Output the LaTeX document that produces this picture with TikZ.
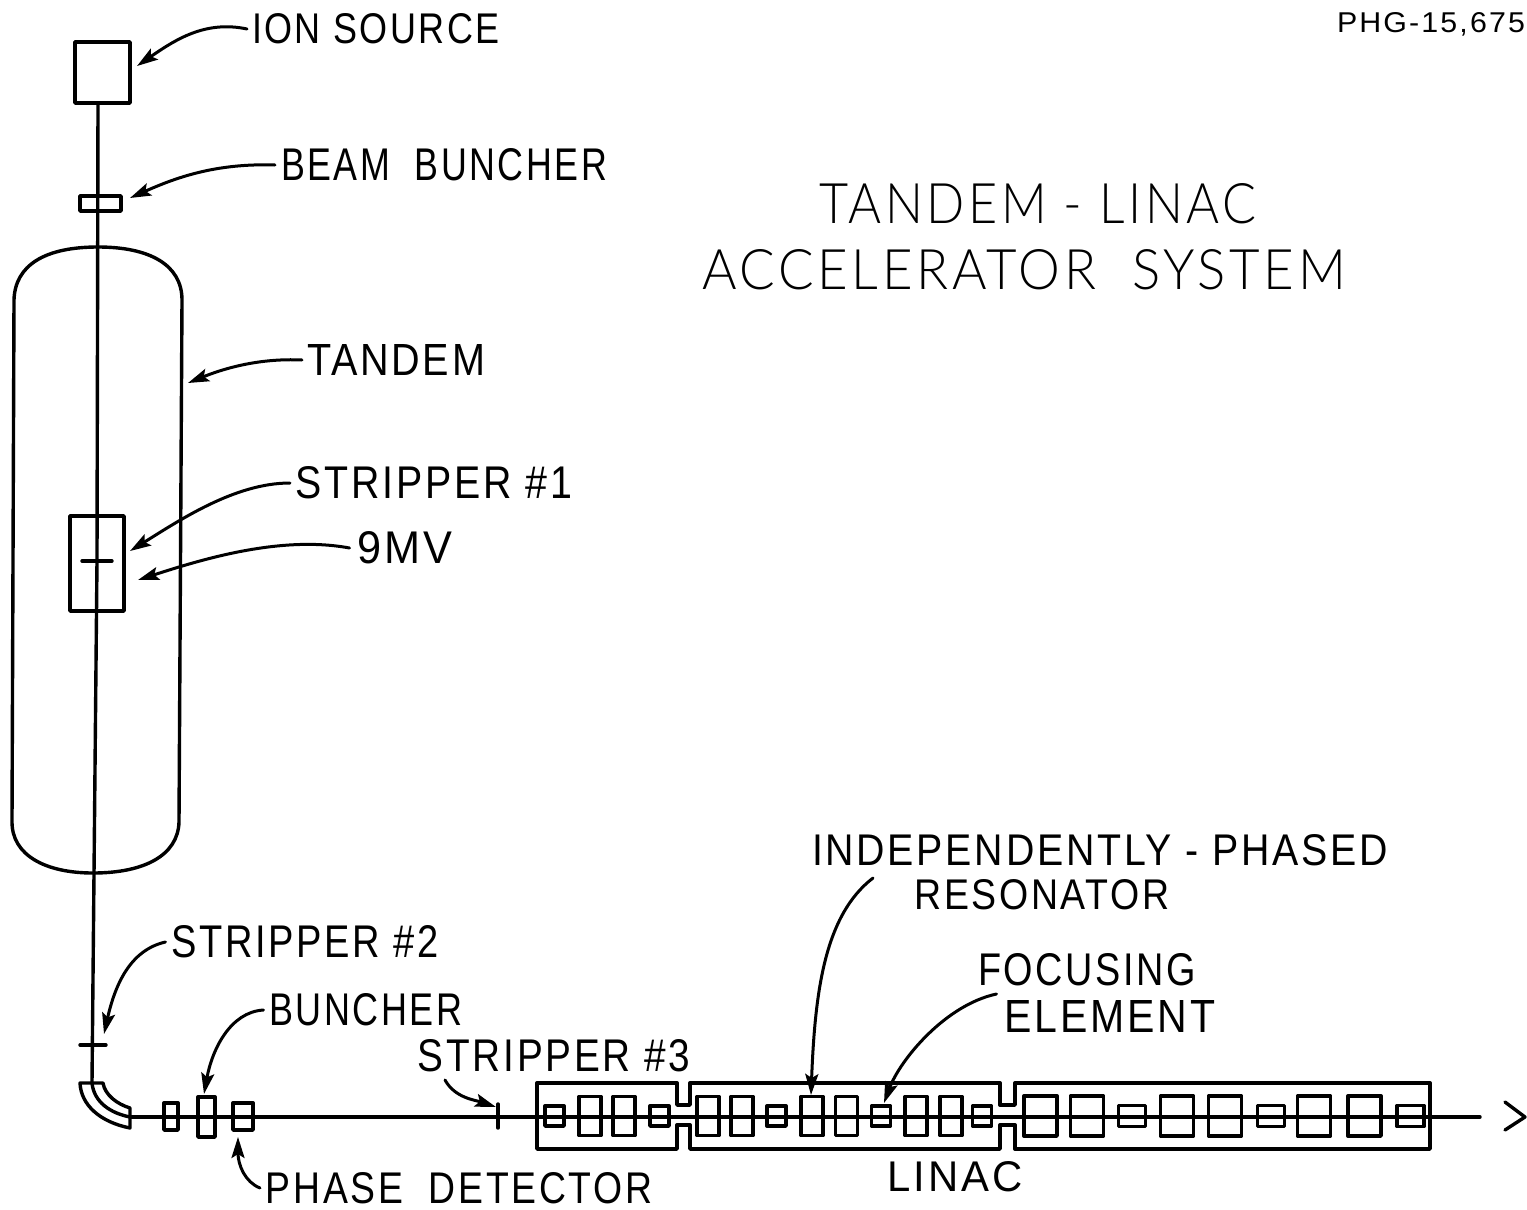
\documentclass[tikz,border=0pt]{standalone}
\usepackage{fontspec}
\usepackage{graphicx}
\setmainfont[LetterSpace=7]{Liberation Sans}
\newfontfamily\titlefont[LetterSpace=7]{Lato Light}
\usetikzlibrary{arrows.meta,calc}
\newcommand\fitlab[3]{\resizebox{#1pt}{#2pt}{\fontsize{42pt}{42pt}\selectfont #3}}
\newcommand\fittitle[3]{\resizebox{#1pt}{#2pt}{\fontsize{56pt}{56pt}\selectfont\titlefont #3}}
\tikzset{
  ink/.style={line width=3.4pt,black,line cap=round,line join=round},
  thinink/.style={line width=3.4pt,black,line cap=round,line join=round},
  lab/.style={inner sep=0pt,outer sep=0pt,text=black,font=\fontsize{42pt}{42pt}\selectfont},
  box/.style={draw,thinink,inner sep=0pt,outer sep=0pt,fill=none},
  big/.style={box,minimum width=22pt,minimum height=39pt},
  wide/.style={box,minimum width=33pt,minimum height=40pt},
  small/.style={box,minimum width=19pt,minimum height=20pt},
  swide/.style={box,minimum width=27pt,minimum height=21pt},
  lead/.style={ink,line width=3pt,-{Stealth[length=21pt,width=13pt,inset=4pt]}},
}
\begin{document}
\begin{tikzpicture}[x=1pt,y=-1pt]
\useasboundingbox (0,0) rectangle (1527,1210);
\fill[white] (0,0) rectangle (1527,1210);

% labels
\node[lab] (ion) at (376,29) {\fitlab{248}{30}{ION SOURCE}};
\node[lab] (beamb) at (444,165) {\fitlab{326}{32}{BEAM\ \ BUNCHER}};
\node[lab] (t1) at (1038,204) {\fittitle{437}{40}{TANDEM - LINAC}};
\node[lab] (t2) at (1024,270) {\fittitle{644}{40}{ACCELERATOR\ \ SYSTEM}};
\node[lab] (tandemlab) at (396,360) {\fitlab{178}{31}{TANDEM}};
\node[lab] (s1lab) at (434,483) {\fitlab{276}{32}{STRIPPER \#1}};
\node[lab] (mvlab) at (405,548) {\fitlab{95}{32}{9MV}};
\node[lab] (phg) at (1431,24) {\fitlab{188}{20}{PHG-15,675}};
\node[lab] (indep) at (1100,850) {\fitlab{576}{31}{INDEPENDENTLY - PHASED}};
\node[lab] (reson) at (1042,895) {\fitlab{255}{30}{RESONATOR}};
\node[lab] (focus) at (1087,970) {\fitlab{218}{32}{FOCUSING}};
\node[lab] (elem) at (1110,1016) {\fitlab{211}{32}{ELEMENT}};
\node[lab] (s2lab) at (305,942) {\fitlab{267}{32}{STRIPPER \#2}};
\node[lab] (bunlab) at (366,1010) {\fitlab{193}{32}{BUNCHER}};
\node[lab] (s3lab) at (554,1056) {\fitlab{272}{32}{STRIPPER \#3}};
\node[lab] (linaclab) at (955,1177) {\fitlab{135}{30}{LINAC}};
\node[lab] (pdlab) at (459,1188) {\fitlab{386}{31}{PHASE\ \ DETECTOR}};

% vertical line elements
\node[box,minimum width=55pt,minimum height=61pt] (source) at (102.5,72.5) {};
\node[box,minimum width=41pt,minimum height=15pt] (bb) at (100.5,203.5) {};
\node[box,minimum width=54pt,minimum height=95pt] (term) at (97,563.5) {};
\coordinate (s1a) at (82,561); \coordinate (s1b) at (112,561);
\draw[thinink] (s1a) -- (s1b);
\coordinate (s2a) at (80,1045); \coordinate (s2b) at (106,1045);
\draw[ink] (s2a) -- (s2b);

% tandem tank
\draw[ink] (98,247) .. controls (45,247) and (15,265) .. (14,300)
  -- (12,822) .. controls (12,855) and (45,873) .. (93,873)
  .. controls (145,873) and (178,855) .. (179,822)
  -- (182,300) .. controls (182,265) and (150,247) .. (98,247) -- cycle;

% beam line
\coordinate (bendtop) at (92,1083);
\draw[ink] (source.south -| 98,103) -- (97,561) -- (bendtop);

% bending magnet
\coordinate (mtl) at (80,1083); \coordinate (mtr) at (103,1083);
\coordinate (mbr) at (130,1128); \coordinate (mmr) at (130,1108);
\coordinate (bendout) at (130,1117);
\draw[ink] (mtl) .. controls (81,1105) and (100,1122) .. (mbr) -- (mmr)
  .. controls (117,1104) and (105,1095) .. (mtr) -- cycle;
\draw[thinink] (bendtop) .. controls (94,1102) and (110,1113) .. (bendout);

% lower line elements
\node[box,minimum width=14pt,minimum height=27pt] (e1) at (171,1116.5) {};
\node[box,minimum width=17pt,minimum height=40pt] (e2) at (206.5,1117) {};
\node[box,minimum width=20pt,minimum height=27pt] (e3) at (243,1116.5) {};
\coordinate (s3a) at (498,1104); \coordinate (s3b) at (498,1128);
\draw[ink] (s3a) -- (s3b);

% linac envelope
\draw[ink] (537,1083) -- (677,1083) -- (677,1105) -- (690,1105) -- (690,1083)
  -- (1000,1083) -- (1000,1105) -- (1015,1105) -- (1015,1083) -- (1430,1083)
  -- (1430,1149) -- (1015,1149) -- (1015,1125) -- (1000,1125) -- (1000,1149)
  -- (690,1149) -- (690,1125) -- (677,1125) -- (677,1149) -- (537,1149) -- cycle;

% resonators
\foreach \n/\s/\c in {a1/small/554.5,a2/big/590,a3/big/624,a4/small/659.5,
  b1/big/708,b2/big/742,b3/small/776.5,b4/big/812,b5/big/846.5,b6/small/881,
  b7/big/916,b8/big/951,b9/small/982,
  c1/wide/1040.5,c2/wide/1087,c3/swide/1132,c4/wide/1177,c5/wide/1225,
  c6/swide/1271,c7/wide/1314,c8/wide/1364.5,c9/swide/1410.5}
  \node[\s] (\n) at (\c,1116) {};

% beam, arrowhead
\coordinate (beamend) at (1480,1117);
\coordinate (ahtop) at (1505,1102); \coordinate (ahtip) at (1525,1117); \coordinate (ahbot) at (1505,1130);
\draw[ink] (bendout) -- (beamend);
\draw[ink] (ahtop) -- (ahtip) -- (ahbot);

% leader arrows
\coordinate (ionend) at (137,66);
\coordinate (bbend) at (130,198);
\coordinate (tankend) at (188,383);
\coordinate (s1end) at (130,551);
\coordinate (mvend) at (138,580);
\coordinate (s2end) at (104,1034);
\coordinate (bunend) at (204,1094);
\coordinate (pdend) at (238,1137);
\coordinate (s3end) at (496,1107);
\coordinate (resend) at (811,1095);
\coordinate (focend) at (884,1103);
\draw[lead] ([xshift=-5pt]ion.west) .. controls (205,20) and (175,40) .. (ionend);
\draw[lead] ([xshift=-6pt]beamb.west) .. controls (215,163) and (175,178) .. (bbend);
\draw[lead] ([xshift=-5pt]tandemlab.west) .. controls (260,358) and (225,368) .. (tankend);
\draw[lead] ([xshift=-6pt]s1lab.west) .. controls (235,483) and (180,520) .. (s1end);
\draw[lead] ([xshift=-8pt]mvlab.west) .. controls (280,535) and (200,560) .. (mvend);
\draw[lead] ([xshift=-6pt]s2lab.west) .. controls (130,950) and (115,985) .. (s2end);
\draw[lead] ([xshift=-6pt]bunlab.west) .. controls (230,1012) and (212,1050) .. (bunend);
\draw[lead] ([xshift=-6pt]pdlab.west) .. controls (245,1182) and (238,1165) .. (pdend);
\coordinate (s3start) at (445,1080);
\draw[lead] (s3start) .. controls (455,1098) and (475,1100) .. (s3end);
\coordinate (resstart) at (873,878);
\draw[lead] (resstart) .. controls (825,915) and (815,990) .. (resend);
\draw[lead] ([xshift=-8pt,yshift=22pt]elem.west) .. controls (945,1005) and (900,1060) .. (focend);
\end{tikzpicture}
\end{document}
